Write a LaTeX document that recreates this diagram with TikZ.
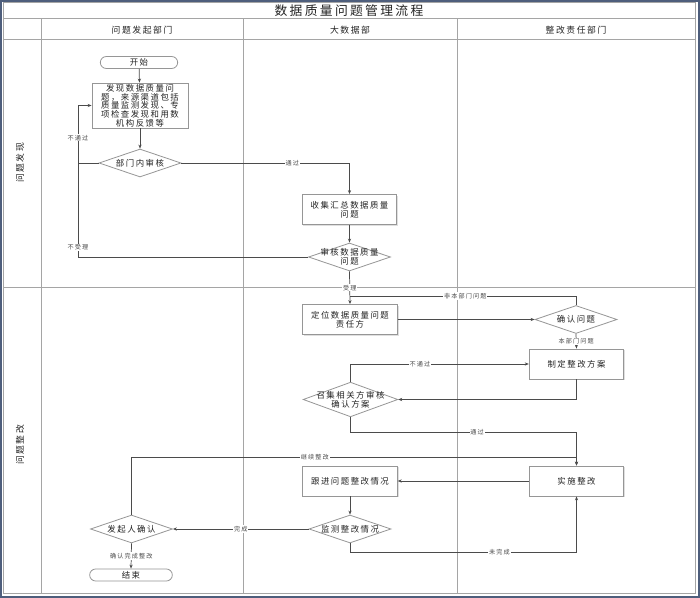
\documentclass[tikz,border=0pt]{standalone}
\usepackage{fontspec}
\setmainfont{Noto Sans CJK SC}[LetterSpace=18]
\usetikzlibrary{shapes.geometric,arrows.meta,shadows}

\definecolor{framec}{RGB}{78,94,124}
\definecolor{lanec}{RGB}{165,165,165}
\definecolor{boxc}{RGB}{150,150,150}
\definecolor{linec}{RGB}{75,75,75}
\definecolor{txtc}{RGB}{35,35,35}

\begin{document}
\begin{tikzpicture}[x=0.75pt,y=0.75pt,yscale=-1,xscale=1,
  lane/.style={draw=lanec, line width=0.75pt},
  head/.style={inner sep=0pt, text=txtc, font=\fontsize{6.6}{8}\selectfont},
  proc/.style={rectangle, draw=boxc, line width=0.6pt, fill=white, minimum width=71pt, minimum height=22.5pt, inner sep=0.5pt, align=center, text=txtc, font=\fontsize{6.3}{6.5}\selectfont, drop shadow={shadow xshift=0.9pt, shadow yshift=-0.9pt, opacity=0.25}},
  term/.style={rectangle, rounded corners=4.5pt, draw=boxc, line width=0.6pt, fill=white, minimum width=58pt, minimum height=9pt, inner sep=0pt, text=txtc, font=\fontsize{6.3}{6.5}\selectfont},
  dec/.style={diamond, draw=boxc, line width=0.6pt, fill=white, minimum width=61.5pt, minimum height=21pt, inner sep=0pt},
  dtext/.style={inner sep=0pt, align=center, text=txtc, font=\fontsize{6.3}{6.5}\selectfont},
  conn/.style={draw=linec, line width=0.55pt, -{Stealth[length=3pt,width=2.4pt]}},
  link/.style={draw=linec, line width=0.55pt},
  elab/.style={fill=white, inner sep=0.6pt, text=linec, font=\fontsize{4.6}{5}\selectfont}
]
\useasboundingbox (0,0) rectangle (700,598);

%Frame and swimlanes
\draw [draw=framec, line width=1.8pt, fill=white] (1.2,1.2) rectangle (698.8,596.8);
\draw [lane] (3,3) rectangle (695,593);
\draw [lane] (3,19) -- (695,19);
\draw [lane] (3,40) -- (695,40);
\draw [lane] (3,288) -- (695,288);
\draw [lane] (41,19) -- (41,593);
\draw [lane] (243,19) -- (243,593);
\draw [lane] (457,19) -- (457,593);

% Text Node
\node [inner sep=0pt, text=txtc, font=\fontsize{9.6}{11}\selectfont] (title) at (349,11) {数据质量问题管理流程};
\node [head] (h-init) at (142,30) {问题发起部门};
\node [head] (h-bigdata) at (350,30) {大数据部};
\node [head] (h-resp) at (576,30) {整改责任部门};
\node [head, rotate=90] (s-find) at (20,163) {问题发现};
\node [head, rotate=90] (s-fix) at (20,445) {问题整改};

%Shapes
\node [term] (start) at (139,62.5) {开始};
\node [proc, minimum width=72pt, minimum height=33.75pt] (find) at (140,105.5) {发现数据质量问\\题，来源渠道包括\\质量监测发现、专\\项检查发现和用数\\机构反馈等};
\node [dec, label={[dtext]center:部门内审核}] (deptchk) at (140,163) {};
\node [proc] (collect) at (349.5,209.5) {收集汇总数据质量\\问题};
\node [dec, label={[dtext]center:审核数据质量\\问题}] (audit) at (349.5,257) {};
\node [proc] (locate) at (350,319.5) {定位数据质量问题\\责任方};
\node [dec, label={[dtext]center:确认问题}] (confirm) at (576,319.5) {};
\node [proc] (plan) at (576.5,364) {制定整改方案};
\node [dec, minimum width=71pt, minimum height=26pt, label={[dtext]center:召集相关方审核\\确认方案}] (meet) at (350.5,399.5) {};
\node [proc] (execute) at (576.5,481) {实施整改};
\node [proc] (track) at (350,481) {跟进问题整改情况};
\node [dec, label={[dtext]center:监测整改情况}] (monitor) at (350,529) {};
\node [dec, label={[dtext]center:发起人确认}] (initcheck) at (131.5,529) {};
\node [term, minimum width=62pt] (finish) at (131,575) {结束};

%Corner points
\coordinate (lx) at (78,257);
\coordinate (merge) at (350,296);
\coordinate (pass) at (576.5,432);
\coordinate (goon) at (576.5,457);
\coordinate (undone) at (576.5,552);

%Connectors
\draw [conn] (start) -- (find);
\draw [conn] (find) -- (deptchk);
\draw [conn] (deptchk.west) -- (deptchk.west -| lx) |- node[elab, pos=0.22] (l-nopass) {不通过} (find.west);
\draw [link] (audit.west) -- (lx) -- node[elab, pos=0.1] (l-reject) {不受理} (deptchk.west -| lx);
\draw [conn] (deptchk.east) -| node[elab, pos=0.33] (l-ok) {通过} (collect.north);
\draw [conn] (collect) -- (audit);
\draw [conn] (audit.south) -- node[elab, pos=0.5] (l-accept) {受理} (locate.north);
\draw [link] (confirm.north) |- node[elab, pos=0.745] (l-other) {非本部门问题} (merge);
\draw [conn] (locate.east) -- (confirm.west);
\draw [conn] (confirm.south) -- node[elab, pos=0.5] (l-own) {本部门问题} (plan.north);
\draw [conn] (plan.south) |- (meet.east);
\draw [conn] (meet.north) |- node[elab, pos=0.695] (l-redo) {不通过} (plan.west);
\draw [conn] (meet.south) |- node[elab, pos=0.78] (l-pass) {通过} (pass) -- (execute.north);
\draw [conn] (initcheck.north) |- node[elab, pos=0.706] (l-goon) {继续整改} (goon) -- (execute.north);
\draw [conn] (execute.west) -- (track.east);
\draw [conn] (track) -- (monitor);
\draw [conn] (monitor.west) -- node[elab, pos=0.5] (l-done) {完成} (initcheck.east);
\draw [conn] (monitor.south) |- node[elab, pos=0.83] (l-undone) {未完成} (undone) -- (execute.south);
\draw [conn] (initcheck.south) -- node[elab, pos=0.5] (l-close) {确认完成整改} (finish.north);

\end{tikzpicture}
\end{document}
